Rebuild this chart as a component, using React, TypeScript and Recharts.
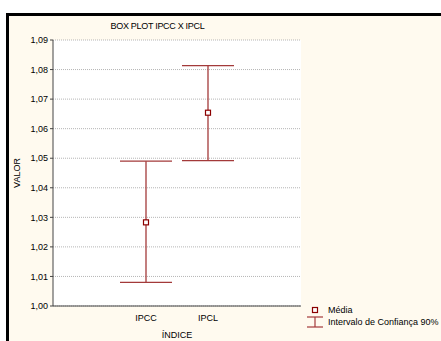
import React from 'react';
import {
  ComposedChart,
  Line,
  ErrorBar,
  XAxis,
  YAxis,
  CartesianGrid,
} from 'recharts';

// categories (empty slots on both sides, like the original plot)
const categories = ['', 'IPCC', 'IPCL', ''];
const means = [null, 1.0283, 1.0654, null];
const lowCI = [null, 1.008, 1.0492, null];
const highCI = [null, 1.049, 1.0813, null];
const yTicks = [1.0, 1.01, 1.02, 1.03, 1.04, 1.05, 1.06, 1.07, 1.08, 1.09];

const RED = '#a33a3a';
const DARK_RED = '#8b0000';
const FONT = '"Liberation Sans", Arial, sans-serif';

const data = categories.map((name, i) => ({
  key: `c${i}`,
  mean: means[i],
  err:
    means[i] == null ? [0, 0] : [means[i]! - lowCI[i]!, highCI[i]! - means[i]!],
}));

const fmt = (v: number) => v.toFixed(2).replace('.', ',');
const catLabel = (_v: string, i: number) => categories[i] ?? '';
const blank = () => '';

const MeanSquare = (props: { cx?: number; cy?: number; index?: number }) => {
  const { cx, cy, index } = props;
  if (cx == null || cy == null || means[index ?? 0] == null) return <g key={index} />;
  return (
    <rect
      key={index}
      x={cx - 2.5}
      y={cy - 2.5}
      width={5}
      height={5}
      fill="#fff"
      stroke={DARK_RED}
      strokeWidth={1.2}
    />
  );
};

const LegendBox = () => (
  <div
    style={{
      position: 'absolute',
      left: 306,
      top: 304,
      fontFamily: FONT,
      fontSize: 9,
      color: '#000',
      lineHeight: '12px',
    }}
  >
    <div style={{ display: 'flex', alignItems: 'center', height: 12 }}>
      <svg width={22} height={12}>
        <rect x={6.5} y={3.5} width={5} height={5} fill="#fff" stroke={DARK_RED} strokeWidth={1.2} />
      </svg>
      <span>Média</span>
    </div>
    <div style={{ display: 'flex', alignItems: 'center', height: 12, whiteSpace: 'nowrap' }}>
      <svg width={22} height={12}>
        <line x1={1} x2={17} y1={1} y2={1} stroke={RED} strokeWidth={1.2} />
        <line x1={9} x2={9} y1={1} y2={11} stroke={RED} strokeWidth={1.2} />
        <line x1={1} x2={17} y1={11} y2={11} stroke={RED} strokeWidth={1.2} />
      </svg>
      <span>Intervalo de Confiança 90%</span>
    </div>
  </div>
);

export default function App() {
  return (
    <div
      style={{
        position: 'fixed',
        left: 0,
        top: 0,
        width: 441,
        height: 341,
        background: '#fff',
        overflow: 'hidden',
      }}
    >
      {/* cream frame */}
      <div
        style={{
          position: 'absolute',
          left: 6,
          top: 13,
          right: 0,
          bottom: 0,
          background: '#fffaef',
          borderLeft: '3px solid #000',
          borderTop: '3px solid #000',
        }}
      />
      <div
        style={{
          position: 'absolute',
          left: 0,
          top: 21,
          width: 315,
          textAlign: 'center',
          fontFamily: FONT,
          fontSize: 9,
          letterSpacing: -0.3,
        }}
      >
        BOX PLOT IPCC X IPCL
      </div>
      <div style={{ position: 'absolute', left: 0, top: 0 }}>
        <ComposedChart
          width={441}
          height={341}
          data={data}
          margin={{ top: 40, right: 140, bottom: 0, left: 8 }}
        >
          <CartesianGrid
            vertical={false}
            fill="#fff"
            stroke="#b5b5b5"
            strokeDasharray="1 1"
          />
          <XAxis
            dataKey="key"
            padding={{ left: 31, right: 31 }}
            height={35}
            stroke="#444"
            tickLine={false}
            interval={0}
            tick={{ fontSize: 9, fill: '#000', fontFamily: FONT }}
            tickFormatter={catLabel}
            tickMargin={3}
          />
          <XAxis
            xAxisId="top"
            dataKey="key"
            orientation="top"
            padding={{ left: 31, right: 31 }}
            mirror
            height={0}
            tickSize={3}
            interval={0}
            stroke="#666"
            tickFormatter={blank}
          />
          <YAxis
            domain={[1.0, 1.09]}
            ticks={yTicks}
            allowDataOverflow
            width={45}
            tickSize={3}
            stroke="#444"
            tickFormatter={fmt}
            tick={{ fontSize: 9, fill: '#000', fontFamily: FONT }}
          />
          <YAxis
            yAxisId="right"
            orientation="right"
            domain={[1.0, 1.09]}
            ticks={yTicks}
            allowDataOverflow
            mirror
            width={0}
            tickSize={3}
            stroke="#333"
            strokeWidth={1.5}
            tickFormatter={blank}
          />
          <Line
            dataKey="mean"
            stroke="none"
            dot={<MeanSquare />}
            activeDot={false}
            connectNulls={false}
            isAnimationActive={false}
          >
            <ErrorBar
              dataKey="err"
              direction="y"
              width={26}
              stroke={RED}
              strokeWidth={1.3}
              isAnimationActive={false}
            />
          </Line>
          <text x={20} y={173} transform="rotate(-90 20 173)" textAnchor="middle" fontSize={9} fontFamily={FONT} fill="#000">
            VALOR
          </text>
          <text x={177} y={338} textAnchor="middle" fontSize={9} fontFamily={FONT} fill="#000">
            ÍNDICE
          </text>
        </ComposedChart>
      </div>
      <LegendBox />
    </div>
  );
}
